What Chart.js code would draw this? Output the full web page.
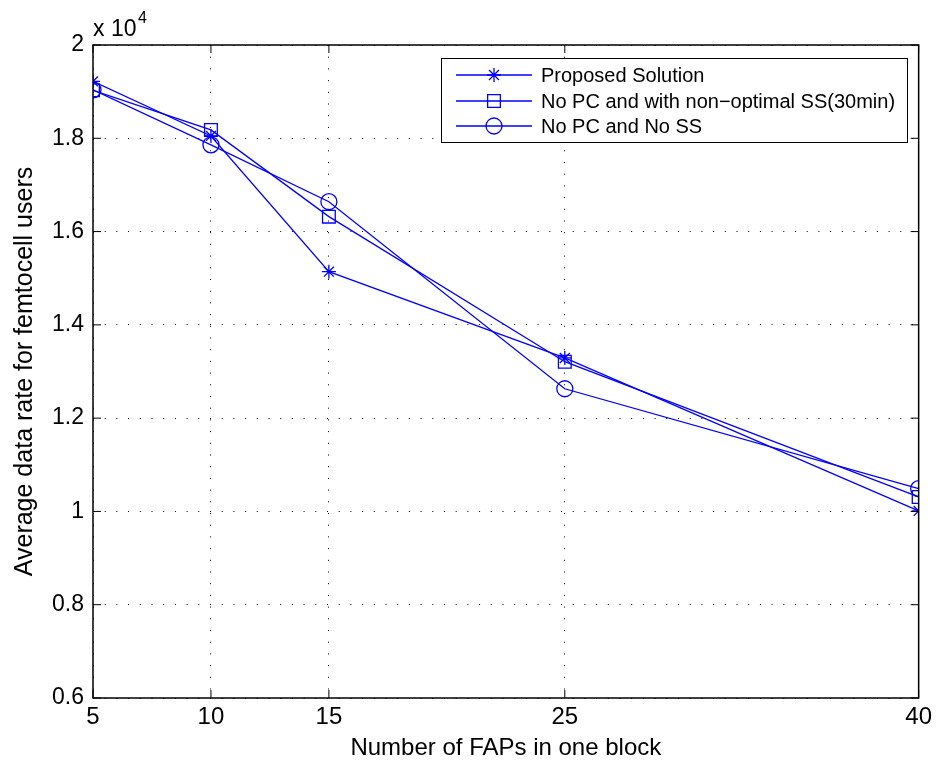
<!DOCTYPE html>
<html>
<head>
<meta charset="utf-8">
<title>Average data rate</title>
<script src="https://cdn.jsdelivr.net/npm/chart.js@4.4.0/dist/chart.umd.min.js"></script>
<style>
  html, body { margin: 0; padding: 0; background: #fff; }
  #wrap { width: 937px; height: 766px; position: relative; }
</style>
</head>
<body>
<div id="wrap"><canvas id="rateChart"></canvas></div>
<script>
// DATA (plotted as x 10^4)
var faps = [5, 10, 15, 25, 40];
var xTicks = [5, 10, 15, 25, 40];
var proposed = [19220, 18050, 15140, 13290, 10010];
var nonOptimalSS = [19030, 18180, 16320, 13210, 10310];
var noPcNoSs = [19040, 17860, 16640, 12630, 10490];
var seriesNames = ['Proposed Solution', 'No PC and with non\u2212optimal SS(30min)', 'No PC and No SS'];

var BLUE = '#0000ff';
var FONT = '"Liberation Sans", Arial, sans-serif';

function toPoints(vals) {
  return faps.map(function (f, i) { return { x: f, y: vals[i] }; });
}

function makeSet(label, vals, style, r) {
  return {
    label: label,
    data: toPoints(vals),
    borderColor: BLUE,
    borderWidth: 1.3,
    backgroundColor: 'rgba(0,0,0,0)',
    pointStyle: style,
    pointRadius: r,
    pointBorderColor: BLUE,
    pointBorderWidth: 1.3,
    pointBackgroundColor: 'rgba(0,0,0,0)',
    tension: 0
  };
}

// box, inward tick marks, exponent label and legend (matlab look)
var matlabBits = {
  id: 'matlabBits',
  afterDatasetsDraw: function (chart) {
    var ctx = chart.ctx, a = chart.chartArea;
    var xs = chart.scales.x, ys = chart.scales.y;
    ctx.save();
    ctx.strokeStyle = '#000';
    ctx.lineWidth = 1.5;
    ctx.strokeRect(a.left, a.top, a.right - a.left, a.bottom - a.top);
    ctx.lineWidth = 1;
    ctx.beginPath();
    xTicks.forEach(function (t) {
      var px = xs.getPixelForValue(t);
      ctx.moveTo(px, a.bottom); ctx.lineTo(px, a.bottom - 8);
      ctx.moveTo(px, a.top); ctx.lineTo(px, a.top + 8);
    });
    ys.ticks.forEach(function (t) {
      var py = ys.getPixelForValue(t.value);
      ctx.moveTo(a.left, py); ctx.lineTo(a.left + 8, py);
      ctx.moveTo(a.right, py); ctx.lineTo(a.right - 8, py);
    });
    ctx.stroke();

    // x 10^4
    ctx.fillStyle = '#000';
    ctx.textBaseline = 'alphabetic';
    ctx.textAlign = 'left';
    ctx.font = '23px ' + FONT;
    ctx.fillText('x 10', 93, 36);
    ctx.font = '16px ' + FONT;
    ctx.fillText('4', 138, 23);

    // legend
    var lx = 441, ly = 58, lw = 466, lh = 84;
    ctx.fillStyle = '#fff';
    ctx.fillRect(lx, ly, lw, lh);
    ctx.lineWidth = 1;
    ctx.strokeStyle = '#000';
    ctx.strokeRect(lx + 0.5, ly + 0.5, lw, lh);
    var rows = [75, 101, 126];
    chart.data.datasets.forEach(function (ds, i) {
      var y = rows[i];
      ctx.strokeStyle = BLUE;
      ctx.fillStyle = 'rgba(0,0,0,0)';
      ctx.lineWidth = 1.3;
      ctx.beginPath();
      ctx.moveTo(456, y); ctx.lineTo(532, y);
      ctx.stroke();
      Chart.helpers.drawPoint(ctx, {
        pointStyle: ds.pointStyle, radius: ds.pointRadius, borderWidth: 1.3, rotation: 0
      }, 494, y);
      ctx.fillStyle = '#000';
      ctx.font = '20px ' + FONT;
      ctx.textBaseline = 'middle';
      ctx.fillText(ds.label, 541, y + 1);
    });
    ctx.restore();
  }
};

var gridStyle = {
  color: '#000',
  lineWidth: 1,
  drawTicks: false
};

var config = {
  type: 'line',
  data: {
    datasets: [
      makeSet(seriesNames[0], proposed, 'star', 7),
      makeSet(seriesNames[1], nonOptimalSS, 'rect', 9),
      makeSet(seriesNames[2], noPcNoSs, 'circle', 8)
    ]
  },
  options: {
    responsive: true,
    maintainAspectRatio: false,
    animation: false,
    layout: { padding: { top: 45, right: 16, left: 0, bottom: 0 } },
    plugins: {
      legend: { display: false },
      tooltip: { enabled: false }
    },
    scales: {
      x: {
        type: 'linear',
        min: 5,
        max: 40,
        afterBuildTicks: function (scale) {
          scale.ticks = xTicks.map(function (v) { return { value: v }; });
        },
        afterFit: function (scale) { scale.height = 68; },
        grid: gridStyle,
        border: { display: false, dash: [1, 10.7] },
        ticks: {
          color: '#000',
          padding: 5,
          maxRotation: 0,
          autoSkip: false,
          font: { family: FONT, size: 24 }
        },
        title: {
          display: true,
          text: 'Number of FAPs in one block',
          color: '#000',
          font: { family: FONT, size: 24 },
          padding: { top: 0, bottom: 3 }
        }
      },
      y: {
        min: 6000,
        max: 20000,
        afterFit: function (scale) { scale.width = 93; },
        grid: gridStyle,
        border: { display: false, dash: [1, 10.7] },
        ticks: {
          stepSize: 2000,
          color: '#000',
          padding: 9,
          font: { family: FONT, size: 23 },
          callback: function (v) { return String(parseFloat((v / 10000).toFixed(2))); }
        },
        title: {
          display: true,
          text: 'Average data rate for femtocell users',
          color: '#000',
          font: { family: FONT, size: 25 },
          padding: { top: 10, bottom: 0 }
        }
      }
    }
  },
  plugins: [matlabBits]
};

var rateChart = new Chart('rateChart', config);
</script>
</body>
</html>
